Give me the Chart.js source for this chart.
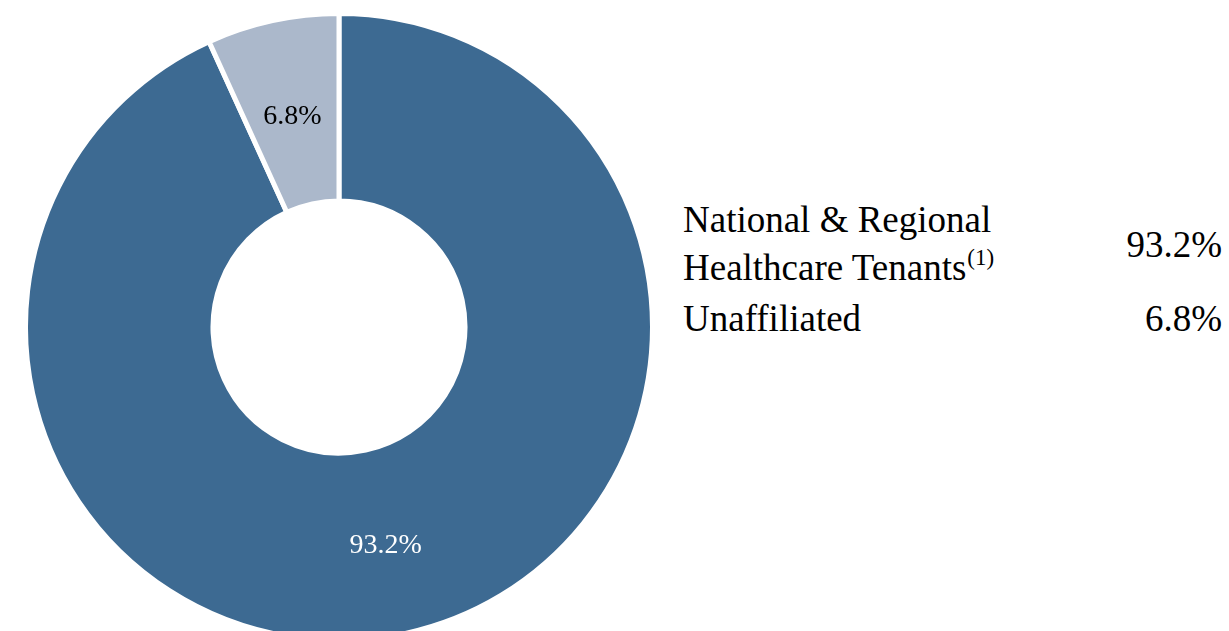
<!DOCTYPE html>
<html>
<head>
<meta charset="utf-8">
<script src="https://cdn.jsdelivr.net/npm/chart.js@4"></script>
<style>
  html, body { margin: 0; padding: 0; background: #fff; overflow: hidden; }
  body { width: 1229px; height: 631px; position: relative; font-family: "Liberation Serif", "Times New Roman", serif; color: #000; }
  #tenantChart { position: absolute; left: 23px; top: 11px; }
  .legend-text { position: absolute; font-size: 37px; line-height: 48px; white-space: nowrap; }
  .legend-value { position: absolute; right: 7px; font-size: 37px; line-height: 48px; text-align: right; }
  .note { font-size: 23px; position: relative; top: -15px; line-height: 0; margin-left: 1px; }
</style>
</head>
<body>
<canvas id="tenantChart" width="632" height="632"></canvas>
<div id="legend"></div>

<script>
var categories = ['National & Regional Healthcare Tenants', 'Unaffiliated'];
var categoryLines = [['National & Regional', 'Healthcare Tenants'], ['Unaffiliated']];
var categoryNotes = ['(1)', ''];
var shares = [93.2, 6.8];
var sliceColors = ['#3D6A92', '#ABB8CB'];
var labelColors = ['#FFFFFF', '#000000'];

// percentage labels in the middle of each ring segment
var sliceLabels = {
    id: 'sliceLabels',
    afterDatasetsDraw: function (chart) {
        var ctx = chart.ctx;
        var meta = chart.getDatasetMeta(0);
        ctx.save();
        ctx.font = '28px "Liberation Serif", "Times New Roman", serif';
        ctx.textAlign = 'center';
        ctx.textBaseline = 'middle';
        meta.data.forEach(function (arc, i) {
            var pos = arc.tooltipPosition();
            ctx.fillStyle = labelColors[i];
            ctx.fillText(shares[i].toFixed(1) + '%', pos.x, pos.y + 4);
        });
        ctx.restore();
    }
};

var tenantCtx = document.getElementById('tenantChart').getContext('2d');
var tenantChart = new Chart(tenantCtx, {
    type: 'doughnut',
    data: {
        labels: categories,
        datasets: [{
            data: shares,
            backgroundColor: sliceColors,
            borderColor: '#FFFFFF',
            borderWidth: 5,
            hoverOffset: 0
        }]
    },
    options: {
        responsive: false,
        animation: false,
        cutout: '40.2%',
        layout: { padding: 0 },
        plugins: {
            legend: { display: false },
            tooltip: { enabled: false }
        }
    },
    plugins: [sliceLabels]
});

// legend on the right, built from the same arrays
var legend = document.getElementById('legend');
var rowTops = [196, 295];
categories.forEach(function (name, i) {
    var text = document.createElement('div');
    text.className = 'legend-text';
    text.style.left = '683px';
    text.style.top = rowTops[i] + 'px';
    text.innerHTML = categoryLines[i].join('<br>');
    if (categoryNotes[i]) {
        var sup = document.createElement('span');
        sup.className = 'note';
        sup.textContent = categoryNotes[i];
        text.appendChild(sup);
    }
    legend.appendChild(text);

    var value = document.createElement('div');
    value.className = 'legend-value';
    value.style.top = (rowTops[i] + (categoryLines[i].length - 1) * 24.5) + 'px';
    value.textContent = shares[i].toFixed(1) + '%';
    legend.appendChild(value);
});
</script>
</body>
</html>
